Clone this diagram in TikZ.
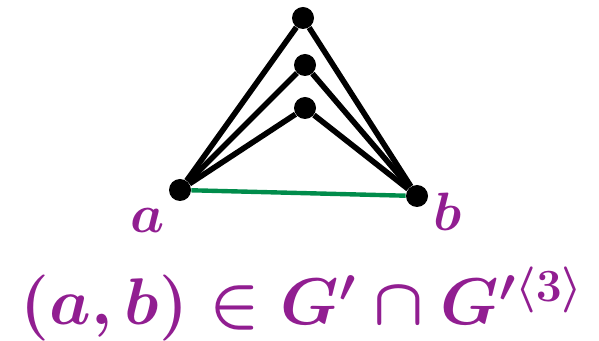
\RequirePackage{fix-cm}
\documentclass[tikz,border=0pt]{standalone}
\usepackage{amsmath}
\usepackage{bm}
\definecolor{labpurple}{RGB}{145,30,145}
\definecolor{edgegreen}{RGB}{0,140,75}
\begin{document}
\begin{tikzpicture}[
    x=0.5pt, y=-0.5pt,
    vert/.style={circle, fill=black, inner sep=0pt, minimum size=11pt},
    edge/.style={line width=2.8pt, black},
    special/.style={line width=2.2pt, edgegreen},
    lab/.style={text=labpurple, anchor=base, font=\fontsize{27}{31}\selectfont\boldmath},
]
\useasboundingbox (0,0) rectangle (599,341);
\node[vert] (t1) at (303,18) {};
\node[vert] (t2) at (305,65) {};
\node[vert] (t3) at (305,108) {};
\node[vert] (a) at (180,190) {};
\node[vert] (b) at (417,196) {};

\draw[special] (a) -- (b);
\foreach \t in {t1,t2,t3} {
    \draw[edge] (a) -- (\t) -- (b);
}

\node[lab] (la) at (148,233) {$a$};
\node[lab] (lb) at (448,231) {$b$};
\node[lab, font=\fontsize{33}{39}\selectfont\boldmath] (rel) at (302,325) {$(a,b)\in G'\cap G'^{\langle 3\rangle}$};
\end{tikzpicture}
\end{document}
